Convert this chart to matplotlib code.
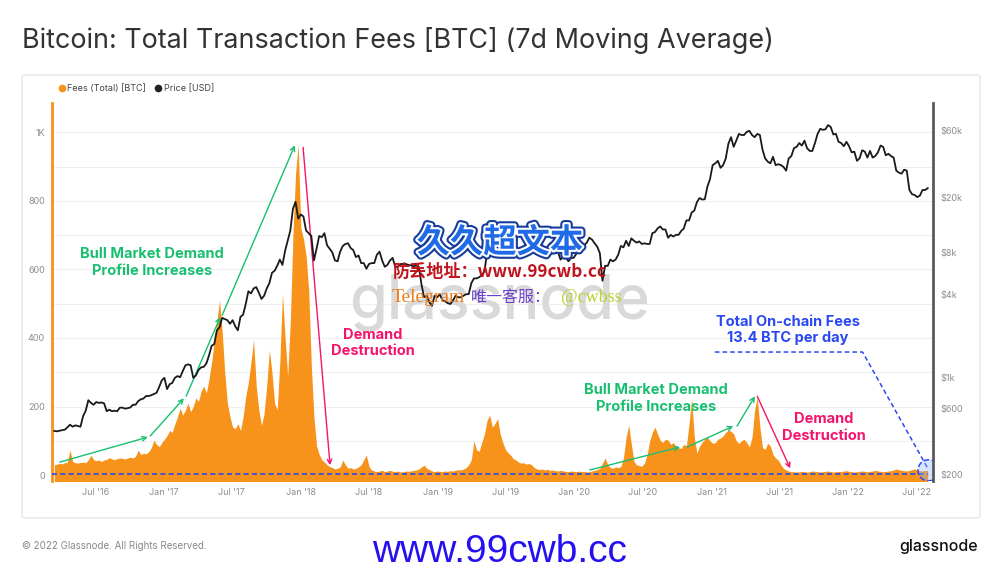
import matplotlib
matplotlib.use('Agg')
import matplotlib.pyplot as plt
import matplotlib.patheffects as pe
from matplotlib.patches import FancyBboxPatch
from matplotlib.lines import Line2D
import numpy as np
import pandas as pd

# weekly values, starting Mon 2016-03-14
fees = [
    30, 32, 34, 33, 36, 38, 73, 40, 36, 35, 37, 38, 36, 45, 58, 45, 42, 44, 40, 44,
    46, 51, 47, 45, 48, 50, 49, 47, 50, 52, 50, 55, 73, 60, 64, 62, 68, 80, 102, 90,
    83, 95, 105, 115, 130, 125, 150, 170, 195, 175, 190, 210, 185, 200, 225, 215, 245, 260, 240, 280,
    330, 390, 450, 510, 420, 300, 210, 170, 140, 135, 150, 130, 170, 230, 270, 330, 394, 260, 190, 145,
    180, 260, 365, 300, 210, 190, 330, 530, 400, 290, 450, 700, 880, 965, 720, 690, 640, 540, 320, 170,
    85, 60, 45, 38, 30, 25, 22, 18, 20, 24, 44, 30, 20, 22, 18, 20, 24, 30, 45, 58,
    25, 15, 12, 10, 12, 14, 10, 12, 14, 11, 10, 12, 9, 10, 12, 11, 12, 14, 15, 18,
    24, 29, 20, 16, 12, 10, 12, 11, 10, 12, 11, 13, 12, 14, 16, 15, 18, 22, 30, 45,
    100, 73, 70, 95, 120, 160, 175, 140, 150, 165, 120, 95, 75, 65, 58, 48, 44, 38, 35, 36,
    32, 34, 30, 22, 18, 16, 18, 15, 17, 14, 15, 13, 12, 14, 12, 11, 10, 12, 11, 10,
    12, 10, 11, 9, 10, 12, 14, 16, 20, 35, 50, 30, 22, 20, 24, 22, 25, 50, 110, 146,
    90, 40, 30, 28, 26, 35, 60, 100, 125, 140, 120, 102, 95, 105, 102, 90, 95, 85, 80, 78,
    90, 85, 150, 224, 110, 64, 85, 96, 105, 111, 100, 93, 95, 105, 108, 115, 125, 131, 128, 120,
    100, 93, 100, 105, 95, 82, 110, 190, 227, 140, 80, 75, 93, 85, 60, 50, 44, 30, 20, 15,
    12, 10, 10, 9, 10, 11, 10, 9, 10, 12, 11, 10, 9, 10, 11, 12, 10, 9, 10, 11,
    10, 12, 13, 11, 10, 9, 10, 11, 12, 11, 10, 11, 12, 14, 12, 11, 10, 11, 12, 13,
    15, 18, 16, 14, 13, 12, 14, 16, 18, 15, 13, 12, 14, 13,
]

price = [
    # 2016
    415, 412, 416, 420, 423, 440, 460, 445, 455, 450, 445, 530, 580, 690, 660, 640, 670, 660, 665, 655,
    575, 590, 575, 580, 575, 610, 610, 600, 605, 612, 640, 640, 680, 700, 710, 740, 740, 750, 765, 780,
    860, 960,
    # 2017
    1000, 830, 900, 920, 1000, 1030, 1010, 1120, 1230, 1250, 1230, 1000, 1040, 1140, 1190, 1200, 1270,
    1450, 1700, 1750, 2200, 2300, 2700, 2650, 2600, 2450, 2600, 2350, 2200, 2750, 2850, 3400, 4200,
    4050, 4400, 4500, 4100, 3700, 3900, 4400, 4800, 5700, 5900, 6400, 7100, 6500, 8200, 9700, 11500,
    16500, 18500, 14000,
    # 2018
    15000, 14500, 11500, 11000, 10500, 7000, 8500, 10500, 10300, 11000, 9000, 8500, 8000, 7000, 6900,
    8100, 8900, 9200, 9300, 8600, 8300, 7400, 7600, 6700, 6700, 6100, 6600, 6700, 6700, 7700, 8100,
    7000, 6300, 6500, 7000, 7300, 6300, 6300, 6600, 6600, 6600, 6500, 6450, 6350, 6450, 6300, 4700,
    3800, 3900, 3500, 3300, 3900, 3800,
    # 2019
    4000, 3600, 3550, 3450, 3400, 3600, 3900, 3800, 3800, 3900, 4000, 4000, 4800, 5200, 5200, 5300,
    5500, 5800, 8000, 8000, 8700, 8000, 8700, 9300, 11000, 11000, 12300, 10500, 10000, 9500, 11800,
    10300, 10200, 10100, 10400, 10300, 10200, 8500, 8300, 8200, 8300, 8000, 9300, 9300, 8800, 8100,
    7100, 7400, 7400, 6900, 7300, 7300,
    # 2020
    7800, 8700, 8600, 9000, 9400, 10200, 9900, 9300, 8800, 7900, 5000, 6400, 6400, 7100, 6900, 7100,
    7700, 8900, 8700, 9700, 8900, 10100, 9700, 9400, 9600, 9200, 9300, 9200, 9200, 11000, 11200,
    11900, 12300, 11700, 11700, 10200, 10700, 10400, 10700, 10700, 11400, 11900, 13600, 13600, 15500,
    16000, 18400, 19700, 19200, 19300, 23800, 27000,
    # 2021
    34000, 35000, 36500, 32500, 34000, 38000, 48500, 54000, 46000, 51000, 57000, 56000, 56000, 59000,
    60000, 56000, 54000, 57000, 56000, 44000, 38000, 36000, 35000, 39000, 34000, 34500, 34000, 33000,
    31000, 38000, 39500, 45000, 46000, 49000, 47000, 51000, 45000, 43000, 43000, 49000, 57000, 62000,
    61000, 61500, 66000, 64000, 56500, 57000, 50000, 49000, 46500, 50000,
    # 2022
    46500, 42000, 42500, 36500, 38000, 43500, 42500, 38500, 43000, 38500, 39500, 42000, 47000, 46000,
    40000, 41000, 39500, 38500, 31000, 30000, 29500, 31500, 31000, 22500, 21000, 20700, 20000, 20500,
    22500, 22500, 23200,
]

fee_dates = pd.date_range('2016-03-14', periods=len(fees), freq='7D')
price_dates = pd.date_range('2016-03-14', periods=len(price), freq='7D')

x_ticks = pd.date_range('2016-07-01', '2022-07-01', freq='6MS')
fee_ticks = [0, 200, 400, 600, 800, 1000]
fee_tick_labels = ['0', '200', '400', '600', '800', '1K']
price_ticks = [200, 600, 1000, 4000, 8000, 20000, 60000]
price_tick_labels = ['$200', '$600', '$1k', '$4k', '$8k', '$20k', '$60k']

ORANGE = '#f7931a'
GREEN = '#19bf70'
PINK = '#f5146b'
BLUE = '#2a48f2'
TICK = '#8c8c8c'

plt.rcParams['font.family'] = ['Inter', 'DejaVu Sans']

fig = plt.figure(figsize=(10, 5.76), dpi=100)
fig.patch.set_facecolor('white')

panel = FancyBboxPatch((0.022, 0.101), 0.958, 0.769, boxstyle='round,pad=0,rounding_size=0.004',
                       transform=fig.transFigure, facecolor='white', edgecolor='#e6e6e6', lw=1, zorder=-5)
fig.add_artist(panel)

ax = fig.add_axes([0.052, 0.165, 0.881, 0.656])
ax2 = ax.twinx()

ax.fill_between(fee_dates, fees, -20, color=ORANGE, lw=0, zorder=2)
ax.set_ylim(-17, 1085)
ax.set_xlim(pd.Timestamp('2016-03-08'), pd.Timestamp('2022-08-15'))
ax.set_yticks(fee_ticks)
ax.set_yticklabels(fee_tick_labels)
ax.set_yticks(np.arange(100, 1001, 200), minor=True)
ax.yaxis.grid(True, which='both', color='#efefef', lw=0.8)
ax.set_axisbelow(True)
ax.set_xticks(x_ticks)
ax.set_xticklabels([d.strftime("%b '%y") for d in x_ticks])

ax2.plot(price_dates, price, color='#1a1a1a', lw=1.3, zorder=3)
ax2.set_yscale('log')
ax2.set_ylim(181, 95000)
ax2.set_yticks(price_ticks)
ax2.set_yticklabels(price_tick_labels)
ax2.minorticks_off()

for a in (ax, ax2):
    for s in ('top', 'bottom'):
        a.spines[s].set_visible(False)
    a.tick_params(which='both', length=0, labelsize=6.5, labelcolor=TICK, pad=5)
ax.spines['left'].set_color(ORANGE)
ax.spines['left'].set_linewidth(2)
ax.spines['right'].set_visible(False)
ax2.spines['left'].set_visible(False)
ax2.spines['right'].set_color('#5a5a5a')
ax2.spines['right'].set_linewidth(2)
ax.tick_params(axis='x', pad=5)

# glassnode watermark behind the lines
ax.text(0.508, 0.47, 'glassnode', transform=ax.transAxes, ha='center', va='center',
        fontsize=44, color='#d9d9d9', fontweight='medium', zorder=1)

# annotations
def arrow(a, x0, y0, x1, y1, color):
    a.annotate('', xy=(pd.Timestamp(x1), y1), xytext=(pd.Timestamp(x0), y0),
               arrowprops=dict(arrowstyle='->', color=color, lw=1, mutation_scale=8,
                               shrinkA=0, shrinkB=0), zorder=5)

for seg in [('2016-03-29', 38, '2016-11-19', 111),
            ('2016-11-25', 114, '2017-02-23', 224),
            ('2017-03-01', 230, '2017-05-31', 461),
            ('2017-06-05', 466, '2017-12-16', 962),
            ('2020-02-11', 15, '2020-10-09', 82),
            ('2020-10-28', 82, '2021-02-28', 143),
            ('2021-03-10', 143, '2021-04-27', 230)]:
    arrow(ax, *seg, GREEN)
for seg in [('2018-01-07', 956, '2018-03-20', 29),
            ('2021-05-03', 230, '2021-07-30', 20)]:
    arrow(ax, *seg, PINK)

bold = dict(ha='center', va='center', fontsize=10.5, fontweight='bold', linespacing=1.25, zorder=6)
ax.text(pd.Timestamp('2016-11-30'), 621, 'Bull Market Demand\nProfile Increases', color=GREEN, **bold)
ax.text(pd.Timestamp('2020-08-06'), 224, 'Bull Market Demand\nProfile Increases', color=GREEN, **bold)
ax.text(pd.Timestamp('2018-07-11'), 385, 'Demand\nDestruction', color=PINK, **bold)
ax.text(pd.Timestamp('2021-10-27'), 140, 'Demand\nDestruction', color=PINK, **bold)
ax.text(pd.Timestamp('2021-07-24'), 423, 'Total On-chain Fees\n13.4 BTC per day', color=BLUE, **bold)

dash = (0, (3, 2))
ax.plot([pd.Timestamp('2016-03-08'), pd.Timestamp('2022-08-01')], [2, 2], color=BLUE, lw=1.2, ls=dash, zorder=4)
ax.plot([pd.Timestamp('2021-01-10'), pd.Timestamp('2022-02-08'), pd.Timestamp('2022-08-01')],
        [359, 359, 20], color=BLUE, lw=1.1, ls=dash, zorder=4)
ax.scatter([pd.Timestamp('2022-08-03')], [14], s=230, facecolors=(0.55, 0.7, 1.0, 0.35),
           edgecolors=BLUE, linestyles='--', linewidths=1.1, zorder=5)

# legend
handles = [Line2D([], [], marker='o', ls='', color=ORANGE, markersize=4.5),
           Line2D([], [], marker='o', ls='', color='#222222', markersize=4.5)]
fig.legend(handles, ['Fees (Total) [BTC]', 'Price [USD]'], loc='center left',
           bbox_to_anchor=(0.049, 0.846), ncol=2, frameon=False, fontsize=6.5,
           handletextpad=0.1, columnspacing=0.9, labelcolor='#444444', handlelength=1)

# title & footer
fig.text(0.022, 0.929, 'Bitcoin: Total Transaction Fees [BTC] (7d Moving Average)',
         fontsize=19.4, color='#333333', va='center', ha='left')
fig.text(0.022, 0.052, '\u00a9 2022 Glassnode. All Rights Reserved.', fontsize=7,
         color='#888888', va='center')
fig.text(0.978, 0.052, 'glassnode', fontsize=11.5, color='#111111', va='center', ha='right',
         fontweight='medium')
fig.text(0.5, 0.041, 'www.99cwb.cc', fontsize=28, color='#2410f0', va='center', ha='center',
         family=['Liberation Sans', 'DejaVu Sans'])

# overlay watermark
cjk = ['Noto Sans CJK SC', 'DejaVu Sans']
fig.text(0.5, 1 - 243 / 576, '久久超文本', fontsize=24, fontweight='bold', color='#1f6ae6',
         ha='center', va='center', family=cjk, zorder=10,
         path_effects=[pe.Stroke(linewidth=6, foreground='#173c9c'),
                       pe.Stroke(linewidth=3, foreground='white'), pe.Normal()])
fig.text(0.4995, 1 - 272 / 576, '防丢地址：www.99cwb.cc', fontsize=12.3, fontweight='bold',
         color='#c0141c', ha='center', va='center', family=cjk, zorder=10)
yy = 1 - 297 / 576
fig.text(0.392, yy, 'Telegram', fontsize=14, color='#f07a18', ha='left', va='center',
         family=['Liberation Serif', 'DejaVu Serif'], zorder=10)
fig.text(0.471, yy, '唯一客服：', fontsize=11.5, color='#6a40c8', ha='left', va='center',
         family=cjk, zorder=10)
fig.text(0.561, yy, '@cwbss', fontsize=13, color='#bcd030', ha='left', va='center',
         family=['Liberation Serif', 'DejaVu Serif'], zorder=10)

fig.savefig('out.png', dpi=100)
